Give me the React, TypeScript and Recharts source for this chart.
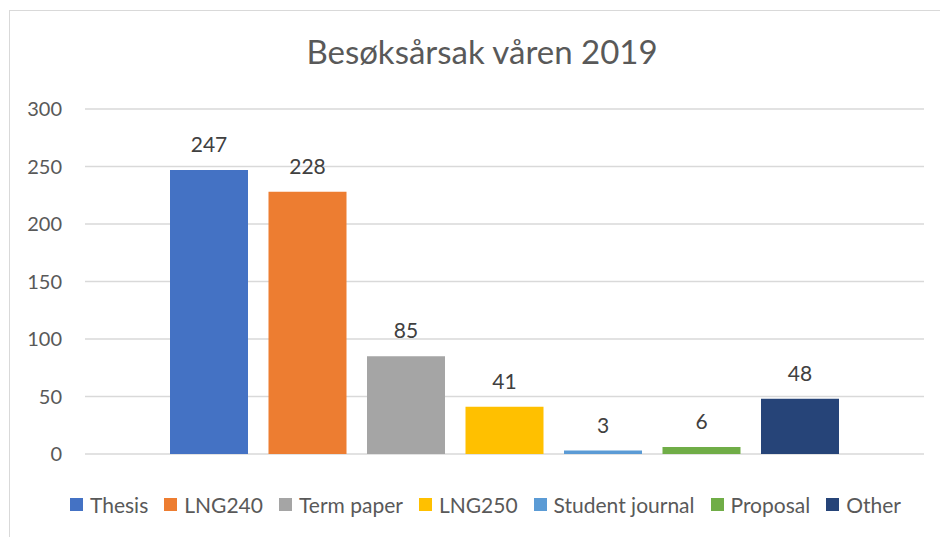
import React from 'react';
import { BarChart, Bar, XAxis, YAxis, CartesianGrid, LabelList } from 'recharts';

const seriesNames = ['Thesis', 'LNG240', 'Term paper', 'LNG250', 'Student journal', 'Proposal', 'Other'];
const seriesValues = [247, 228, 85, 41, 3, 6, 48];
const seriesColors = ['#4472C4', '#ED7D31', '#A5A5A5', '#FFC000', '#5B9BD5', '#70AD47', '#264478'];
const yTicks = [0, 50, 100, 150, 200, 250, 300];

const row: Record<string, number | string> = { name: 'Besøksårsak' };
seriesNames.forEach((n, i) => {
    row[n] = seriesValues[i];
});
const data = [row];

const FONT = 'Lato, "Open Sans", sans-serif';

export default function App() {
    return (
        <div style={{ position: 'fixed', left: 0, top: 0, width: 940, height: 537, overflow: 'hidden', background: '#fff', fontFamily: FONT }}>
            <div style={{ position: 'absolute', left: 9, top: 10, width: 960, height: 560, border: '1px solid #d9d9d9', boxSizing: 'border-box' }} />
            <div style={{ position: 'absolute', left: 0, top: 31, width: 964, textAlign: 'center', fontSize: 33, color: '#595959' }}>
                Besøksårsak våren 2019
            </div>
            <BarChart
                width={940}
                height={537}
                data={data}
                margin={{ top: 109, right: 16, left: 9, bottom: 83 }}
                barCategoryGap={85}
                barGap={20.5}
                style={{ position: 'absolute', left: 0, top: 0 }}
            >
                <CartesianGrid vertical={false} stroke="#d9d9d9" strokeWidth={1.5} />
                <XAxis dataKey="name" hide />
                <YAxis
                    width={76}
                    domain={[0, 300]}
                    ticks={yTicks}
                    axisLine={false}
                    tickLine={false}
                    tickSize={0}
                    tickMargin={23}
                    tick={{ fill: '#595959', fontSize: 20, fontFamily: FONT }}
                />
                {seriesNames.map((n, i) => (
                    <Bar key={n} dataKey={n} fill={seriesColors[i]} isAnimationActive={false}>
                        <LabelList dataKey={n} position="top" offset={18} fill="#404040" fontSize={21} fontFamily={FONT} />
                    </Bar>
                ))}
            </BarChart>
            <div style={{ position: 'absolute', left: 70, top: 492, display: 'flex', alignItems: 'center', fontSize: 21, color: '#595959' }}>
                {seriesNames.map((n, i) => (
                    <div key={n} style={{ display: 'flex', alignItems: 'center', marginRight: 16 }}>
                        <span style={{ display: 'inline-block', width: 13, height: 13, background: seriesColors[i], marginRight: 7 }} />
                        <span>{n}</span>
                    </div>
                ))}
            </div>
        </div>
    );
}
